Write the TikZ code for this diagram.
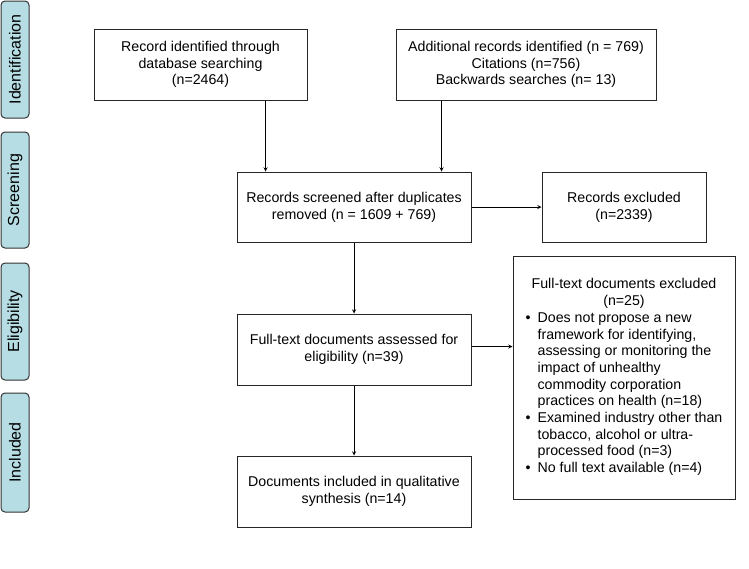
\documentclass[tikz,border=0pt]{standalone}
\usepackage{fontspec}
\setmainfont{Liberation Sans}
\usepackage{xcolor}
\usetikzlibrary{shapes.geometric, arrows, positioning, calc}
\definecolor{phasefill}{RGB}{182,221,228}
\tikzstyle{phase} = [rectangle, rounded corners=4pt, minimum height=28pt, text centered, draw=black!80, line width=1pt, fill=phasefill, rotate=90, font=\fontsize{16}{19}\selectfont]
\tikzstyle{process} = [rectangle, text centered, align=center, draw=black!85, line width=1pt, font=\fontsize{14.2}{16.7}\selectfont, inner sep=0pt]
\tikzstyle{arrow} = [line width=0.9pt,->,>=stealth]

\begin{document}
\begin{tikzpicture}[x=1pt,y=-1pt]

    \useasboundingbox (0,0) rectangle (749,568);

    % Phasen links
    \node (identification) [phase, minimum width=117pt] at (15,59.5) {Identification};
    \node (screening) [phase, minimum width=116pt] at (15,190) {Screening};
    \node (eligibility) [phase, minimum width=117pt] at (15,321.5) {Eligibility};
    \node (included) [phase, minimum width=119pt] at (15,452.5) {Included};

    % Kaesten des Diagramms
    \node (database) [process, minimum width=213pt, minimum height=71pt] at (200.5,64.5) {Record identified through\\database searching\\(n=2464)};
    \node (additional) [process, minimum width=260pt, minimum height=71pt] at (526,64.5) {Additional records identified (n = 769)\\Citations (n=756)\\Backwards searches (n= 13)};
    \node (screened) [process, minimum width=234pt, minimum height=70pt] at (354,207) {Records screened after duplicates\\removed (n = 1609 + 769)};
    \node (excluded) [process, minimum width=164pt, minimum height=70pt] at (624,207) {Records excluded\\(n=2339)};
    \node (assessed) [process, minimum width=234pt, minimum height=71pt] at (354,349.5) {Full-text documents assessed for\\eligibility (n=39)};
    \node (fulltextexcl) [process, minimum width=222pt, minimum height=243pt] at (624,377.5) {%
        \begin{tabular}{@{}l@{\hspace{7pt}}l@{}}
        \multicolumn{2}{@{}c@{}}{Full-text documents excluded}\\
        \multicolumn{2}{@{}c@{}}{(n=25)}\\
        \textbullet & Does not propose a new\\
        & framework for identifying,\\
        & assessing or monitoring the\\
        & impact of unhealthy\\
        & commodity corporation\\
        & practices on health (n=18)\\
        \textbullet & Examined industry other than\\
        & tobacco, alcohol or ultra-\\
        & processed food (n=3)\\
        \textbullet & No full text available (n=4)
        \end{tabular}};
    \node (synthesis) [process, minimum width=234pt, minimum height=71pt] at (354,491.5) {Documents included in qualitative\\synthesis (n=14)};

    % Pfeile des Diagramms
    \draw [arrow] ([xshift=-42pt]database.south east) -- ([xshift=-42pt]database.south east |- screened.north);
    \draw [arrow] ([xshift=46pt]additional.south west) -- ([xshift=46pt]additional.south west |- screened.north);
    \draw [arrow] (screened) -- (excluded);
    \draw [arrow] (screened) -- (assessed);
    \draw [arrow] ([yshift=3pt]assessed.east) -- ([yshift=3pt]assessed.east -| fulltextexcl.west);
    \draw [arrow] (assessed) -- (synthesis);

\end{tikzpicture}
\end{document}
